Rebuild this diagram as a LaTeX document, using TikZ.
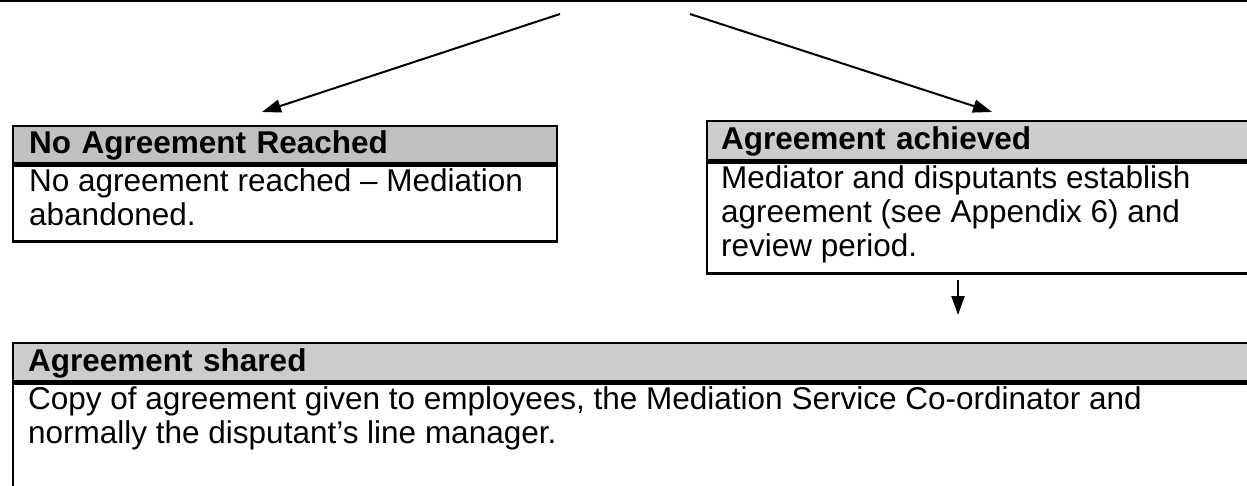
\documentclass[tikz,border=0pt]{standalone}
\usepackage{fontspec}
\setmainfont{Liberation Sans}
\usetikzlibrary{arrows.meta,calc}
\definecolor{grayA}{HTML}{C0C0C0}
\definecolor{grayB}{HTML}{CCCCCC}
\newcommand{\bxfont}{\fontsize{15.75pt}{17pt}\selectfont}
\newcommand{\bxtext}[3]{\parbox[t][#1][t]{#2}{\raggedright\bxfont\rule{0pt}{13pt}#3}}
\begin{document}
\begin{tikzpicture}[x=0.5pt,y=-0.5pt,
  hdr/.style={draw=black, line width=1.2pt, anchor=north west, inner ysep=0pt,
    align=left, font=\bxfont\bfseries, text height=11.3pt, text depth=2pt},
  bdy/.style={draw=black, line width=1.2pt, anchor=north west, inner ysep=0pt},
  arr/.style={line width=1pt, -{Triangle[length=9.5pt,width=6.5pt]}}]
\useasboundingbox (0,0) rectangle (1247,486);
% top rule
\coordinate (tl1) at (0,1);
\coordinate (tl2) at (1247,1);
\draw[line width=1pt] (tl1) -- (tl2);
% left box
\node[hdr, fill=grayA, text width=256pt, inner xsep=8pt, minimum height=18.5pt] (lh) at (12,125) {No Agreement Reached};
\node[bdy, inner xsep=8pt] (lb) at (lh.south west)
  {\bxtext{38pt}{256pt}{No agreement reached -- Mediation\\abandoned.}};
% right box
\node[hdr, fill=grayB, text width=258pt, inner xsep=7pt, minimum height=19.5pt] (rh) at (706,120) {Agreement achieved};
\node[bdy, inner xsep=7pt] (rb) at (rh.south west)
  {\bxtext{55.5pt}{258pt}{Mediator and disputants establish\\agreement (see Appendix 6) and\\review period.}};
% bottom box
\node[hdr, fill=grayB, text width=604pt, inner xsep=7.5pt, minimum height=19pt] (bh) at (12,342) {Agreement shared};
\node[bdy, inner xsep=7.5pt] (bb) at (bh.south west)
  {\bxtext{60pt}{604pt}{Copy of agreement given to employees, the Mediation Service Co-ordinator and\\normally the disputant’s line manager.}};
% arrows
\coordinate (sL) at (560,14);
\coordinate (tL) at (262,112);
\coordinate (sR) at (690,14);
\coordinate (tR) at (992,112);
\coordinate (dS) at ($(rb.south west)+(252,5)$);
\coordinate (dT) at (958,315);
\draw[arr] (sL) -- (tL);
\draw[arr] (sR) -- (tR);
\draw[arr] (dS) -- (dT);
\end{tikzpicture}
\end{document}
